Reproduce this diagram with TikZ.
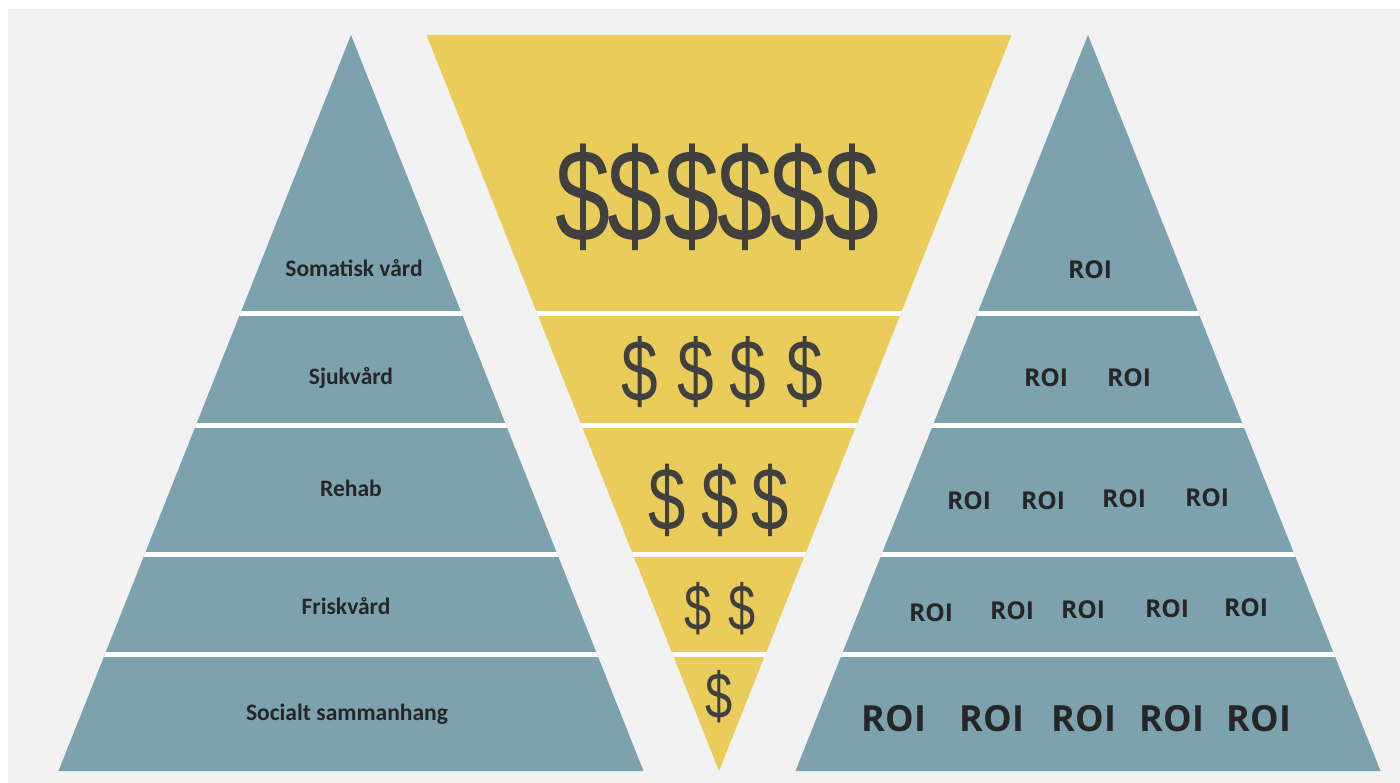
\documentclass[tikz,border=0pt]{standalone}
\usepackage{fontspec}
\setmainfont{Carlito}
\newfontfamily\roifont{Open Sans}
\newfontfamily\cashfont{Liberation Sans}

\definecolor{bggray}{HTML}{F2F2F2}
\definecolor{pyrteal}{HTML}{7BA2AD}
\definecolor{pyryellow}{HTML}{E9CC5A}
\definecolor{labelgray}{HTML}{262626}
\definecolor{cashgray}{HTML}{404040}

\tikzset{
  level/.style={font=\bfseries\fontsize{13.4}{15}\selectfont, text=labelgray,
    inner sep=0pt, text height=8.6pt, text depth=0pt},
  roi/.style={font=\roifont\bfseries\fontsize{14}{16}\selectfont, text=labelgray,
    inner sep=0pt, text height=9.8pt, text depth=0pt},
  bigroi/.style={roi, font=\roifont\bfseries\fontsize{20.5}{22}\selectfont, text height=14.6pt},
  cash/.style={font=\cashfont\fontsize{#1}{#1}\selectfont, text=cashgray,
    inner sep=0pt, xscale=0.75},
  gap/.style={white, line width=2.85pt}
}

\begin{document}
\begin{tikzpicture}[x=0.02cm, y=-0.02cm]
  \useasboundingbox (0,0) rectangle (1400,783);
  \fill[white] (0,0) rectangle (1400,783);
  \fill[bggray] (8,9) rectangle (1400,783);

  % the three triangles
  \coordinate (lefttop) at (351,35);
  \coordinate (midtip) at (719,771);
  \coordinate (righttop) at (1088,35);
  \fill[pyrteal] (lefttop) -- (643.5,771) -- (58.5,771) -- cycle;
  \fill[pyryellow] (426.5,35) -- (1011.5,35) -- (midtip) -- cycle;
  \fill[pyrteal] (righttop) -- (1380.5,771) -- (795.5,771) -- cycle;

  % white cuts between the tiers
  \begin{scope}
    \clip (lefttop) -- (643.5,771) -- (58.5,771) -- cycle
          (426.5,35) -- (1011.5,35) -- (midtip) -- cycle
          (righttop) -- (1380.5,771) -- (795.5,771) -- cycle;
    \foreach \y in {313.5,425.5,554.5,654.5}
      \draw[gap] (0,\y) -- (1400,\y);
  \end{scope}

  % left pyramid
  \node[level] (somatisk) at (354,269) {Somatisk vård};
  \node[level] (sjukvard) at (351,377) {Sjukvård};
  \node[level] (rehab) at (351,489) {Rehab};
  \node[level] (friskvard) at (346,607) {Friskvård};
  \node[level] (socialt) at (347,713) {Socialt sammanhang};

  % funnel
  \foreach \x [count=\i] in {583,635,692,745,798,852}
    \node[cash=75] (cashA\i) at (\x,197) {\$};
  \foreach \x [count=\i] in {640,696,748,805}
    \node[cash=50] (cashB\i) at (\x,372) {\$};
  \foreach \x [count=\i] in {667,720,770}
    \node[cash=51] (cashC\i) at (\x,500) {\$};
  \foreach \x [count=\i] in {698,742}
    \node[cash=37] (cashD\i) at (\x,609) {\$};
  \node[cash=37] (cashE1) at (719,697) {\$};

  % right pyramid
  \node[roi] (roiA1) at (1090,270) {ROI};
  \foreach \x [count=\i] in {1046,1129}
    \node[roi] (roiB\i) at (\x,378) {ROI};
  \foreach \x/\y [count=\i] in {969/501,1043/501,1124/499,1207/498}
    \node[roi] (roiC\i) at (\x,\y) {ROI};
  \foreach \x/\y [count=\i] in {931/613,1012/611,1083/610,1167/609,1246/608}
    \node[roi] (roiD\i) at (\x,\y) {ROI};
  \foreach \x [count=\i] in {894,992,1084,1172,1259}
    \node[bigroi] (roiE\i) at (\x,719) {ROI};
\end{tikzpicture}
\end{document}
